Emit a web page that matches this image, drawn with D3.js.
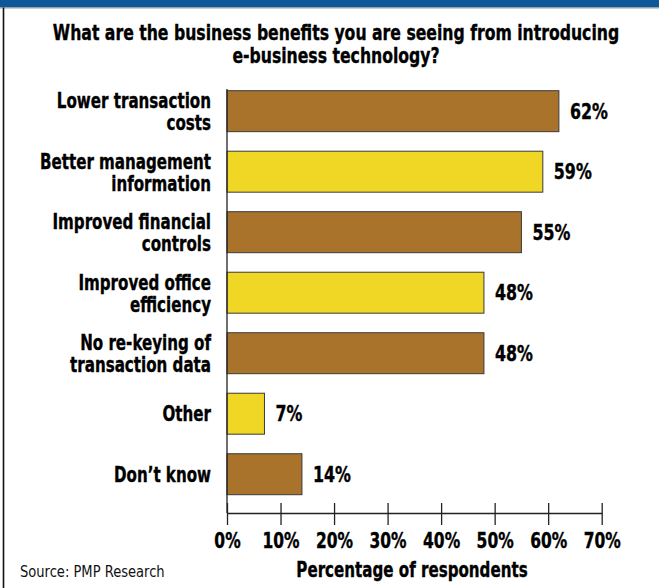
<!DOCTYPE html>
<html>
<head>
<meta charset="utf-8">
<script src="https://cdn.jsdelivr.net/npm/d3@7"></script>
<style>
  html, body { margin: 0; padding: 0; background: #fff; }
  svg { display: block; }
  .cond { font-family: "Liberation Sans Narrow", "Arial Narrow", "DejaVu Sans Condensed", sans-serif; }
  .heavy { font-weight: bold; stroke: #000; stroke-width: 0.35px; }
</style>
</head>
<body>
<svg id="chart" width="659" height="588"></svg>
<script>
// Survey answers, top to bottom
const categories = [
  ["Lower transaction", "costs"],
  ["Better management", "information"],
  ["Improved financial", "controls"],
  ["Improved office", "efficiency"],
  ["No re-keying of", "transaction data"],
  ["Other"],
  ["Don\u2019t know"]
];
const values = [62, 59, 55, 48, 48, 7, 14];
const tickValues = [0, 10, 20, 30, 40, 50, 60, 70];
const tickLabels = ["0%", "10%", "20%", "30%", "40%", "50%", "60%", "70%"];
const titleLines = [
  "What are the business benefits you are seeing from introducing",
  "e-business technology?"
];

const W = 659, H = 588;
const svg = d3.select("#chart");
const BROWN = "#a9732b", YELLOW = "#f0d625", BLUE = "#0e5798";
const SX_TEXT = 0.80;   // horizontal squeeze for word labels
const SX_TITLE = 0.83;
const SX_NUM = 0.84;    // squeeze for percentages

// frame: blue band on top, rule on the left
svg.append("rect").attr("x", 0).attr("y", 0).attr("width", W).attr("height", 7.5).attr("fill", BLUE);
svg.append("line").attr("x1", 0).attr("x2", W).attr("y1", 8).attr("y2", 8)
  .attr("stroke", "#9a9a9a").attr("stroke-width", 1);
svg.append("line").attr("x1", 3.5).attr("x2", 3.5).attr("y1", 7.5).attr("y2", H)
  .attr("stroke", "#111").attr("stroke-width", 1.6);

// title
titleLines.forEach((t, i) => {
  svg.append("text").attr("class", "cond heavy")
    .attr("transform", `translate(336,${40 + i * 23}) scale(${SX_TITLE},1)`)
    .attr("text-anchor", "middle")
    .attr("font-size", 21).attr("fill", "#000")
    .text(t);
});

const keys = categories.map((c, i) => i);
const x = d3.scaleLinear().domain([0, 70]).range([227, 601.7]);
const y = d3.scaleBand().domain(keys).range([90.7, 494.7]).paddingInner(0.323).paddingOuter(0);

// bars
svg.append("g").selectAll("rect").data(values).join("rect")
  .attr("x", x(0))
  .attr("y", (d, i) => y(i))
  .attr("width", d => x(d) - x(0))
  .attr("height", y.bandwidth())
  .attr("fill", (d, i) => i % 2 === 0 ? BROWN : YELLOW)
  .attr("stroke", "#3a3a3a").attr("stroke-width", 1);

// value labels
svg.append("g").selectAll("text").data(values).join("text")
  .attr("class", "cond heavy")
  .attr("transform", (d, i) => `translate(${x(d) + 11},${y(i) + y.bandwidth() / 2 + 7.5}) scale(${SX_NUM},1)`)
  .attr("font-size", 21).attr("fill", "#000")
  .text(d => d + "%");

// category labels
const catG = svg.append("g").selectAll("text").data(categories).join("text")
  .attr("class", "cond heavy")
  .attr("text-anchor", "end")
  .attr("font-size", 21).attr("fill", "#000")
  .attr("transform", (d, i) => {
    const cy = y(i) + y.bandwidth() / 2;
    const base = d.length === 1 ? cy + 7.5 : cy - 3;
    return `translate(211,${base}) scale(${SX_TEXT},1)`;
  });
catG.selectAll("tspan").data(d => d).join("tspan")
  .attr("x", 0).attr("dy", (d, j) => j === 0 ? 0 : 22)
  .text(d => d);

// vertical baseline at 0%
svg.append("line").attr("x1", x(0)).attr("x2", x(0)).attr("y1", 89).attr("y2", 513)
  .attr("stroke", "#222").attr("stroke-width", 1.3);

// x axis
const axisY = 513;
const axis = d3.axisBottom(x).tickValues(tickValues).tickSize(0).tickFormat("");
const ag = svg.append("g").attr("transform", `translate(0,${axisY})`).call(axis);
ag.select(".domain").attr("stroke", "#222").attr("stroke-width", 1.3);
ag.selectAll(".tick line").attr("y1", -10).attr("y2", 12).attr("stroke", "#222").attr("stroke-width", 1.3);
ag.selectAll(".tick text").remove();
ag.selectAll(".tick").append("text")
  .attr("class", "cond heavy")
  .attr("transform", `translate(0,34.7) scale(${SX_NUM},1)`)
  .attr("text-anchor", "middle")
  .attr("font-size", 20.5).attr("fill", "#000")
  .text((d, i) => tickLabels[i]);

// axis title
svg.append("text").attr("class", "cond heavy")
  .attr("transform", `translate(412,576.7) scale(${SX_TEXT},1)`)
  .attr("text-anchor", "middle")
  .attr("font-size", 21).attr("fill", "#000")
  .text("Percentage of respondents");

// source
svg.append("text").attr("class", "cond")
  .attr("transform", `translate(20,576.7) scale(0.91,1)`)
  .attr("font-size", 16).attr("fill", "#111")
  .text("Source: PMP Research");
</script>
</body>
</html>
